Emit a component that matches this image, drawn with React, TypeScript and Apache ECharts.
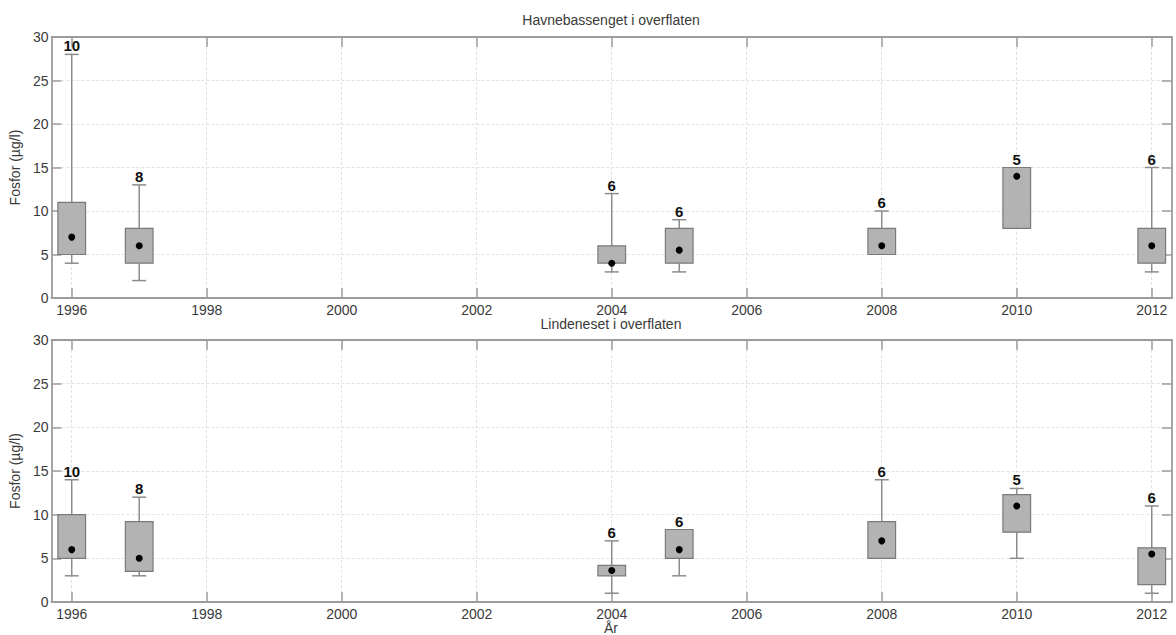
import React, { useEffect, useRef } from "react";
import * as echarts from "echarts";

const years = [1996, 1997, 2004, 2005, 2008, 2010, 2012];
const xTicks = [1996, 1998, 2000, 2002, 2004, 2006, 2008, 2010, 2012];

const titleTop = "Havnebassenget i overflaten";
const titleBottom = "Lindeneset i overflaten";
const yName = "Fosfor (µg/l)";
const xName = "År";

// Havnebassenget
const havnMin = [4, 2, 3, 3, 5, 8, 3];
const havnQ1 = [5, 4, 4, 4, 5, 8, 4];
const havnMedian = [7, 6, 4, 5.5, 6, 14, 6];
const havnQ3 = [11, 8, 6, 8, 8, 15, 8];
const havnMax = [28, 13, 12, 9, 10, 15, 15];
const havnN = [10, 8, 6, 6, 6, 5, 6];

// Lindeneset
const lindMin = [3, 3, 1, 3, 5, 5, 1];
const lindQ1 = [5, 3.5, 3, 5, 5, 8, 2];
const lindMedian = [6, 5, 3.6, 6, 7, 11, 5.5];
const lindQ3 = [10, 9.2, 4.2, 8.3, 9.2, 12.3, 6.2];
const lindMax = [14, 12, 7, 8.3, 14, 13, 11];
const lindN = [10, 8, 6, 6, 6, 5, 6];

const FONT = "'Liberation Sans', Arial, Helvetica, sans-serif";
const FRAME = "#9c9c9c";
const GRIDC = "#e2e2e2";
const BOX_W = 0.41;

function rows(mn: number[], q1: number[], md: number[], q3: number[], mx: number[], n: number[]) {
  return years.map((y, i) => [y, mn[i], q1[i], md[i], q3[i], mx[i], n[i]]);
}

function renderBox(params: any, api: any) {
  const x = api.value(0);
  const lo = api.value(1);
  const q1 = api.value(2);
  const med = api.value(3);
  const q3 = api.value(4);
  const hi = api.value(5);
  const n = api.value(6);
  const pLo = api.coord([x, lo]);
  const pQ1 = api.coord([x, q1]);
  const pMed = api.coord([x, med]);
  const pQ3 = api.coord([x, q3]);
  const pHi = api.coord([x, hi]);
  const cx = pMed[0];
  const half = api.size([BOX_W, 0])[0] / 2;
  const cap = 7;
  const lineStyle = { stroke: "#8c8c8c", lineWidth: 1.5 };
  const children: any[] = [];
  if (hi > q3) {
    children.push({ type: "line", shape: { x1: cx, y1: pQ3[1], x2: cx, y2: pHi[1] }, style: lineStyle });
    children.push({ type: "line", shape: { x1: cx - cap, y1: pHi[1], x2: cx + cap, y2: pHi[1] }, style: lineStyle });
  }
  if (lo < q1) {
    children.push({ type: "line", shape: { x1: cx, y1: pQ1[1], x2: cx, y2: pLo[1] }, style: lineStyle });
    children.push({ type: "line", shape: { x1: cx - cap, y1: pLo[1], x2: cx + cap, y2: pLo[1] }, style: lineStyle });
  }
  children.push({
    type: "rect",
    shape: { x: cx - half, y: pQ3[1], width: half * 2, height: pQ1[1] - pQ3[1] },
    style: { fill: "#b3b3b3", stroke: "#7a7a7a", lineWidth: 1.2 },
  });
  children.push({ type: "circle", shape: { cx, cy: pMed[1], r: 3.5 }, style: { fill: "#000" } });
  children.push({
    type: "text",
    x: cx,
    y: pHi[1] - 1,
    style: {
      text: String(n),
      textAlign: "center",
      textVerticalAlign: "bottom",
      fontSize: 15,
      fontWeight: "bold",
      fontFamily: FONT,
      fill: "#111",
    },
  });
  return { type: "group", children };
}

function xAxes(gridIndex: number) {
  const common = {
    type: "value",
    gridIndex,
    min: 1995.7,
    max: 2012.3,
    axisLine: { show: true, onZero: false, lineStyle: { color: FRAME, width: 1.8 } },
  };
  return [
    {
      ...common,
      position: "bottom",
      axisTick: { show: true, inside: true, length: 10, customValues: xTicks, lineStyle: { color: FRAME, width: 1.5 } },
      axisLabel: { show: true, customValues: xTicks, margin: 5, fontSize: 14, fontFamily: FONT, color: "#3a3a3a", formatter: (v: number) => String(v) },
      splitLine: { show: true, lineStyle: { color: GRIDC, type: [3, 2], width: 1 } },
    },
    {
      ...common,
      position: "top",
      axisTick: { show: true, inside: true, length: 10, customValues: xTicks, lineStyle: { color: FRAME, width: 1.5 } },
      axisLabel: { show: false },
      splitLine: { show: false },
    },
  ];
}

function yAxes(gridIndex: number) {
  const common = {
    type: "value",
    gridIndex,
    min: 0,
    max: 30,
    interval: 5,
    axisLine: { show: true, onZero: false, lineStyle: { color: FRAME, width: 1.8 } },
    axisTick: { show: true, inside: true, length: 10, lineStyle: { color: FRAME, width: 1.5 } },
  };
  return [
    {
      ...common,
      position: "left",
      name: yName,
      nameLocation: "middle",
      nameRotate: 90,
      nameGap: 24,
      nameTextStyle: { fontSize: 14, fontFamily: FONT, color: "#3a3a3a" },
      axisLabel: { show: true, margin: 3, fontSize: 14, fontFamily: FONT, color: "#3a3a3a" },
      splitLine: { show: true, lineStyle: { color: GRIDC, type: [3, 2], width: 1 } },
    },
    {
      ...common,
      position: "right",
      axisLabel: { show: false },
      splitLine: { show: false },
    },
  ];
}

export default function App() {
  const ref = useRef<HTMLDivElement>(null);
  useEffect(() => {
    const chart = echarts.init(ref.current!, null, { renderer: "svg" });
    const option: any = {
      animation: false,
      backgroundColor: "#fff",
      grid: [
        { left: 50, top: 37, width: 1122, height: 261 },
        { left: 50, top: 340, width: 1122, height: 262 },
      ],
      xAxis: [...xAxes(0), ...xAxes(1)],
      yAxis: [...yAxes(0), ...yAxes(1)],
      graphic: [
        {
          type: "text",
          x: 611,
          y: 20,
          style: { text: titleTop, textAlign: "center", textVerticalAlign: "middle", fontSize: 14, fontFamily: FONT, fill: "#3a3a3a" },
        },
        {
          type: "text",
          x: 611,
          y: 324,
          style: { text: titleBottom, textAlign: "center", textVerticalAlign: "middle", fontSize: 14, fontFamily: FONT, fill: "#3a3a3a" },
        },
        {
          type: "text",
          x: 611,
          y: 628,
          style: { text: xName, textAlign: "center", textVerticalAlign: "middle", fontSize: 14, fontFamily: FONT, fill: "#3a3a3a" },
        },
      ],
      series: [
        {
          type: "custom",
          xAxisIndex: 0,
          yAxisIndex: 0,
          renderItem: renderBox,
          encode: { x: 0, y: [1, 2, 3, 4, 5] },
          data: rows(havnMin, havnQ1, havnMedian, havnQ3, havnMax, havnN),
          clip: false,
        },
        {
          type: "custom",
          xAxisIndex: 2,
          yAxisIndex: 2,
          renderItem: renderBox,
          encode: { x: 0, y: [1, 2, 3, 4, 5] },
          data: rows(lindMin, lindQ1, lindMedian, lindQ3, lindMax, lindN),
          clip: false,
        },
      ],
    };
    chart.setOption(option);
    return () => chart.dispose();
  }, []);
  return <div ref={ref} style={{ position: "fixed", left: 0, top: 0, width: 1176, height: 635 }} />;
}
